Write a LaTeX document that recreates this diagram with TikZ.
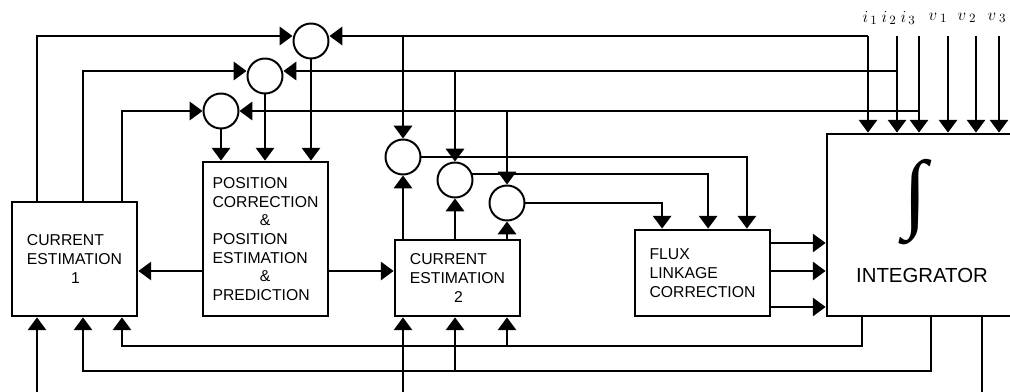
\documentclass[tikz,border=0pt]{standalone}
\usepackage{fontspec}
\setmainfont{Liberation Sans}
\newfontfamily\intfont{Liberation Serif}
\usepackage{tikz}
\usetikzlibrary{arrows.meta,positioning}

\begin{document}
\begin{tikzpicture}[
    x=0.25mm, y=-0.25mm,
    block/.style={draw, rectangle, line width=2pt, align=left, font=\fontsize{11.2}{13.3}\selectfont},
    sum/.style={draw, circle, line width=1.4pt, minimum size=8.75mm, inner sep=0pt},
    wire/.style={line width=1.4pt},
    arrow/.style={wire, -{Triangle[length=3.2mm, width=4.6mm]}},
    sig/.style={font=\fontsize{12.5}{14}\selectfont, inner sep=0pt}
]
\useasboundingbox (0,0) rectangle (1010,391);
\clip (0,0) rectangle (1010,391);

% blocks
\node[block, minimum width=31.25mm, minimum height=28.5mm] (ce1) at (74.5,259) {CURRENT\\ESTIMATION\\\hspace*{2.8em}1};
\node[block, minimum width=31.25mm, minimum height=38.5mm] (pos) at (265.5,239) {POSITION\\CORRECTION\\\hspace*{3em}\&\\POSITION\\ESTIMATION\\\hspace*{3em}\&\\PREDICTION};
\node[block, minimum width=31.25mm, minimum height=19mm] (ce2) at (457.5,278) {CURRENT\\ESTIMATION\\\hspace*{2.8em}2};
\node[block, minimum width=33.75mm, minimum height=21.5mm] (flux) at (702.5,273) {FLUX\\LINKAGE\\CORRECTION};
\node[block, minimum width=53.25mm, minimum height=45.5mm] (integ) at (933.5,225) {};
\node[inner sep=0pt, font=\intfont\fontsize{62}{62}\selectfont] (intsym) at (915,202) {∫};
\node[font=\fontsize{14.5}{17}\selectfont] (intlbl) at (922,275) {INTEGRATOR};

% summing points
\node[sum] (c1) at (311,41) {};
\node[sum] (c2) at (265,76) {};
\node[sum] (c3) at (221,111) {};
\node[sum] (cA) at (403,157) {};
\node[sum] (cB) at (455,180) {};
\node[sum] (cC) at (507,203) {};

% measured inputs
\foreach \n/\x in {i1/868, i2/897, i3/919, v1/948, v2/976, v3/999} {
    \coordinate (\n) at (\x,36);
    \draw[arrow] (\n) -- (\n |- integ.north);
}
\foreach \x/\t [count=\k] in {870/$i_{\,1}$, 889/$i_{\,2}$, 908/$i_{\,3}$, 938/$v_{\;1}$, 967/$v_{\;2}$, 997/$v_{\;3}$}
    \node[sig] (sig\k) at (\x,18) {\t};

% corners of the feedback buses
\coordinate (k1) at (37,36);
\coordinate (k2) at (83,71);
\coordinate (k3) at (122,111);
\coordinate (m1) at (862,346);
\coordinate (m2) at (931,371);
\coordinate (m3) at (982,391);
\coordinate (bot) at (0,395);

% top buses
\draw[arrow] (k1 |- ce1.north) -- (k1) -- (k1 -| c1.west);
\draw[arrow] (k2 |- ce1.north) -- (k2) -- (k2 -| c2.west);
\draw[arrow] (k3 |- ce1.north) -- (k3) -- (k3 -| c3.west);
\draw[arrow] (i1) -- (i1 -| c1.east);
\draw[arrow] (k2 -| i2) -- (k2 -| c2.east);
\draw[arrow] (k3 -| i3) -- (k3 -| c3.east);
\draw[arrow] (k1 -| cA) -- (cA.north);
\draw[arrow] (k2 -| cB) -- (cB.north);
\draw[arrow] (k3 -| cC) -- (cC.north);

% into the position block
\draw[arrow] (c1.south) -- (c1.south |- pos.north);
\draw[arrow] (c2.south) -- (c2.south |- pos.north);
\draw[arrow] (c3.south) -- (c3.south |- pos.north);
\draw[arrow] ([yshift=-8mm]pos.west) -- ([yshift=-8mm]pos.west -| ce1.east);
\draw[arrow] ([yshift=-8mm]pos.east) -- ([yshift=-8mm]pos.east -| ce2.west);

% current estimation 2 to the flux correction
\draw[arrow] (cA |- ce2.north) -- (cA.south);
\draw[arrow] (cB |- ce2.north) -- (cB.south);
\draw[arrow] (cC |- ce2.north) -- (cC.south);
\draw[arrow] (cA.east) -| ([xshift=11.1mm]flux.north);
\draw[arrow] (cB.20) -| ([xshift=1.4mm]flux.north);
\draw[arrow] (cC.east) -| ([xshift=-10.1mm]flux.north);

% flux correction to integrator
\draw[arrow] ([yshift=7.5mm]flux.east) -- ([yshift=7.5mm]flux.east -| integ.west);
\draw[arrow] ([yshift=0.5mm]flux.east) -- ([yshift=0.5mm]flux.east -| integ.west);
\draw[arrow] ([yshift=-8.5mm]flux.east) -- ([yshift=-8.5mm]flux.east -| integ.west);

% bottom buses
\draw[arrow] (m1 |- integ.south) -- (m1) -| (k3 |- ce1.south);
\draw[arrow] (m2 |- integ.south) -- (m2) -| (k2 |- ce1.south);
\draw[arrow] (m1 -| cC) -- (cC |- ce2.south);
\draw[arrow] (m2 -| cB) -- (cB |- ce2.south);
\draw[arrow] (k1 |- bot) -- (k1 |- ce1.south);
\draw[arrow] (cA |- bot) -- (cA |- ce2.south);
\draw[wire] (m3 |- integ.south) -- (m3 |- bot);

\end{tikzpicture}
\end{document}
